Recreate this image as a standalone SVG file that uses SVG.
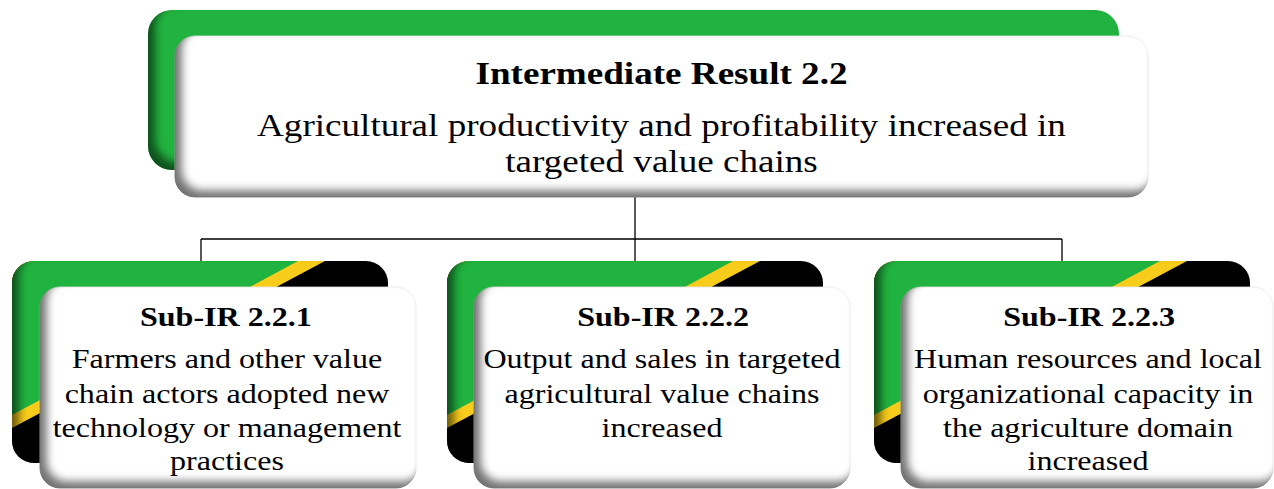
<svg xmlns="http://www.w3.org/2000/svg" width="1274" height="489" viewBox="0 0 1274 489">
<style>
.t{font-family:"Liberation Serif","Times New Roman",serif;fill:#000;text-anchor:middle}
.h{font-weight:bold}
.big{font-size:32px}
.sm{font-size:28px}
.conn{stroke:#000;stroke-width:1.3;fill:none}
.white{fill:#fff;stroke:#ececec;stroke-width:0.8}
</style>
<defs>
<filter id="inset" x="-10%" y="-15%" width="120%" height="130%" color-interpolation-filters="sRGB">
<feComponentTransfer in="SourceAlpha" result="inv"><feFuncA type="table" tableValues="1 0"/></feComponentTransfer>
<feOffset in="inv" dx="7" dy="-7" result="off"/>
<feGaussianBlur in="off" stdDeviation="4" result="blur"/>
<feComposite in="blur" in2="SourceAlpha" operator="in" result="shadow"/>
<feFlood flood-color="#000" flood-opacity="0.55"/>
<feComposite in2="shadow" operator="in" result="sh"/>
<feMerge><feMergeNode in="SourceGraphic"/><feMergeNode in="sh"/></feMerge>
</filter>
<clipPath id="cb1"><rect x="12" y="261" width="376" height="202" rx="22"/></clipPath>
<clipPath id="cb2"><rect x="447" y="261" width="376" height="202" rx="22"/></clipPath>
<clipPath id="cb3"><rect x="874" y="261" width="376" height="202" rx="22"/></clipPath>
</defs>

<g id="connectors">
<path class="conn" d="M635 197V239M201 239H1062M201 239V262M635 239V262M1062 239V262"/>
</g>

<g id="ir22">
<rect x="148" y="10" width="971" height="160" rx="24" fill="#21b33f" filter="url(#inset)"/>
<rect class="white" x="175" y="36" width="973" height="161" rx="20" filter="url(#inset)"/>
<g transform="translate(661.5 0) scale(1.16 1)">
<text class="t h big" x="0" y="84">Intermediate Result 2.2</text>
<text class="t big" x="0" y="136">Agricultural productivity and profitability increased in</text>
<text class="t big" x="0" y="172">targeted value chains</text>
</g>
</g>

<g id="sub1">
<g filter="url(#inset)"><g clip-path="url(#cb1)">
<rect x="12" y="261" width="376" height="202" fill="#000"/>
<polygon points="12,261 325,261 12,428" fill="#f7cc1a"/>
<polygon points="12,261 298,261 12,415" fill="#21b33f"/>
</g></g>
<rect class="white" x="40" y="287" width="376" height="201" rx="20" filter="url(#inset)"/>
<g transform="translate(227 0) scale(1.145 1)">
<text class="t h sm" x="-1" y="326">Sub-IR 2.2.1</text>
<text class="t sm" x="0" y="368">Farmers and other value</text>
<text class="t sm" x="0" y="403">chain actors adopted new</text>
<text class="t sm" x="0" y="437">technology or management</text>
<text class="t sm" x="0" y="470">practices</text>
</g>
</g>

<g id="sub2">
<g filter="url(#inset)"><g clip-path="url(#cb2)">
<rect x="447" y="261" width="376" height="202" fill="#000"/>
<polygon points="447,261 760,261 447,428" fill="#f7cc1a"/>
<polygon points="447,261 733,261 447,415" fill="#21b33f"/>
</g></g>
<rect class="white" x="474" y="287" width="376" height="201" rx="20" filter="url(#inset)"/>
<g transform="translate(662 0) scale(1.145 1)">
<text class="t h sm" x="1" y="326">Sub-IR 2.2.2</text>
<text class="t sm" x="0" y="368">Output and sales in targeted</text>
<text class="t sm" x="0" y="403">agricultural value chains</text>
<text class="t sm" x="0" y="437">increased</text>
</g>
</g>

<g id="sub3">
<g filter="url(#inset)"><g clip-path="url(#cb3)">
<rect x="874" y="261" width="376" height="202" fill="#000"/>
<polygon points="874,261 1187,261 874,428" fill="#f7cc1a"/>
<polygon points="874,261 1160,261 874,415" fill="#21b33f"/>
</g></g>
<rect class="white" x="901" y="287" width="372" height="201" rx="20" filter="url(#inset)"/>
<g transform="translate(1088 0) scale(1.145 1)">
<text class="t h sm" x="1" y="326">Sub-IR 2.2.3</text>
<text class="t sm" x="0" y="368">Human resources and local</text>
<text class="t sm" x="0" y="403">organizational capacity in</text>
<text class="t sm" x="0" y="437">the agriculture domain</text>
<text class="t sm" x="0" y="470">increased</text>
</g>
</g>
</svg>
